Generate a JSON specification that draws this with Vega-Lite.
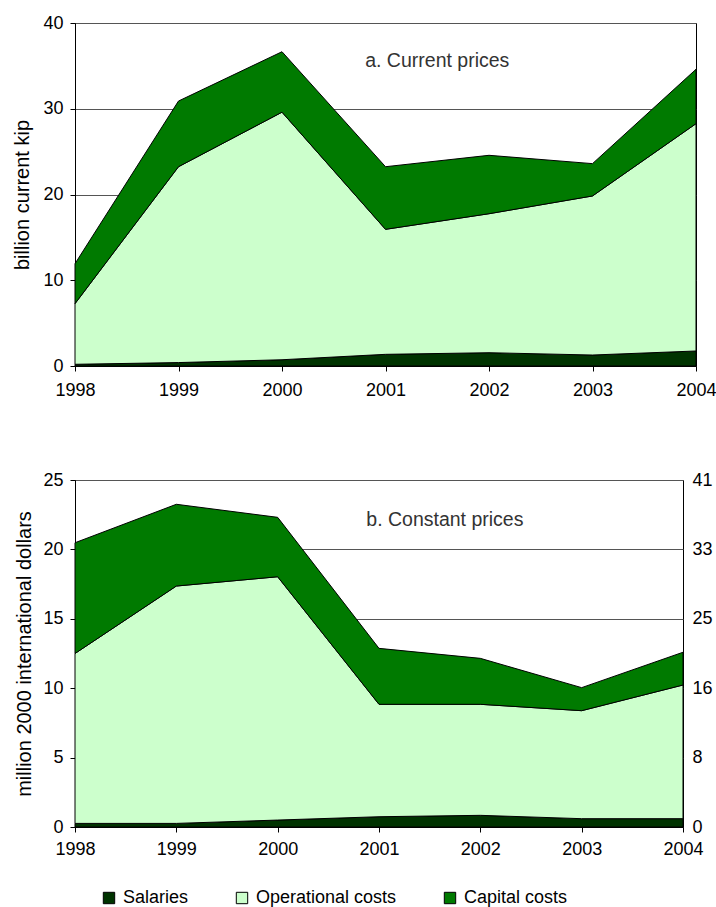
{
  "$schema": "https://vega.github.io/schema/vega-lite/v6.json",
  "padding": {"top": 13, "left": 12, "right": 4, "bottom": 4},
  "background": "white",
  "config": {
    "font": "Liberation Sans",
    "view": {"stroke": "black", "strokeWidth": 1},
    "axis": {
      "labelFont": "Liberation Sans",
      "labelFontSize": 18,
      "labelColor": "black",
      "titleFont": "Liberation Sans",
      "titleFontSize": 20,
      "titleFontWeight": "normal",
      "titleColor": "black",
      "domainColor": "black",
      "tickColor": "black",
      "tickSize": 5,
      "gridColor": "#555555",
      "gridWidth": 1
    },
    "legend": {
      "labelFont": "Liberation Sans",
      "labelFontSize": 18,
      "labelColor": "black"
    }
  },
  "datasets": {
    "current": [
      {"year": 1998, "component": "Salaries", "value": 0.2},
      {"year": 1999, "component": "Salaries", "value": 0.4},
      {"year": 2000, "component": "Salaries", "value": 0.73},
      {"year": 2001, "component": "Salaries", "value": 1.36},
      {"year": 2002, "component": "Salaries", "value": 1.55},
      {"year": 2003, "component": "Salaries", "value": 1.28},
      {"year": 2004, "component": "Salaries", "value": 1.75},
      {"year": 1998, "component": "Operational costs", "value": 7.07},
      {"year": 1999, "component": "Operational costs", "value": 22.84},
      {"year": 2000, "component": "Operational costs", "value": 28.87},
      {"year": 2001, "component": "Operational costs", "value": 14.58},
      {"year": 2002, "component": "Operational costs", "value": 16.21},
      {"year": 2003, "component": "Operational costs", "value": 18.55},
      {"year": 2004, "component": "Operational costs", "value": 26.51},
      {"year": 1998, "component": "Capital costs", "value": 4.66},
      {"year": 1999, "component": "Capital costs", "value": 7.66},
      {"year": 2000, "component": "Capital costs", "value": 7.05},
      {"year": 2001, "component": "Capital costs", "value": 7.3},
      {"year": 2002, "component": "Capital costs", "value": 6.81},
      {"year": 2003, "component": "Capital costs", "value": 3.77},
      {"year": 2004, "component": "Capital costs", "value": 6.34}
    ],
    "constant": [
      {"year": 1998, "component": "Salaries", "value": 0.26},
      {"year": 1999, "component": "Salaries", "value": 0.26},
      {"year": 2000, "component": "Salaries", "value": 0.5},
      {"year": 2001, "component": "Salaries", "value": 0.74},
      {"year": 2002, "component": "Salaries", "value": 0.84},
      {"year": 2003, "component": "Salaries", "value": 0.6},
      {"year": 2004, "component": "Salaries", "value": 0.6},
      {"year": 1998, "component": "Operational costs", "value": 12.24},
      {"year": 1999, "component": "Operational costs", "value": 17.1},
      {"year": 2000, "component": "Operational costs", "value": 17.53},
      {"year": 2001, "component": "Operational costs", "value": 8.1},
      {"year": 2002, "component": "Operational costs", "value": 8.0},
      {"year": 2003, "component": "Operational costs", "value": 7.78},
      {"year": 2004, "component": "Operational costs", "value": 9.63},
      {"year": 1998, "component": "Capital costs", "value": 7.98},
      {"year": 1999, "component": "Capital costs", "value": 5.89},
      {"year": 2000, "component": "Capital costs", "value": 4.28},
      {"year": 2001, "component": "Capital costs", "value": 4.03},
      {"year": 2002, "component": "Capital costs", "value": 3.31},
      {"year": 2003, "component": "Capital costs", "value": 1.66},
      {"year": 2004, "component": "Capital costs", "value": 2.36}
    ],
    "labels": [
      {"panel": "a", "year": 2001.5, "y": 35.6, "text": "a. Current prices"},
      {"panel": "b", "year": 2001.65, "y": 22.1, "text": "b. Constant prices"}
    ]
  },
  "spacing": 70,
  "vconcat": [
    {
      "width": 621,
      "height": 343,
      "layer": [
        {
          "data": {"name": "current"},
          "mark": {"type": "area", "opacity": 1, "stroke": "black", "strokeWidth": 1, "strokeJoin": "miter"},
          "encoding": {
            "x": {
              "field": "year", "type": "quantitative",
              "scale": {"domain": [1998, 2004], "nice": false, "zero": false},
              "axis": {"title": null, "format": "d", "values": [1998, 1999, 2000, 2001, 2002, 2003, 2004], "grid": false, "labelPadding": 10, "labelFlush": false}
            },
            "y": {
              "field": "value", "type": "quantitative", "stack": "zero",
              "scale": {"domain": [0, 40], "nice": false},
              "axis": {"title": "billion current kip", "values": [0, 10, 20, 30, 40], "labelPadding": 7, "titlePadding": 10}
            },
            "color": {
              "field": "component", "type": "nominal",
              "sort": ["Salaries", "Operational costs", "Capital costs"],
              "scale": {"domain": ["Salaries", "Operational costs", "Capital costs"], "range": ["#003300", "#CCFFCC", "#007A00"]},
              "legend": {
                "title": null, "orient": "none", "direction": "horizontal",
                "legendX": 25, "legendY": 866,
                "symbolType": "square", "symbolSize": 130,
                "symbolStrokeColor": "black", "symbolStrokeWidth": 1,
                "symbolOpacity": 1, "columnPadding": 44, "labelOffset": 5
              }
            },
            "order": {"field": "component", "sort": "descending"}
          }
        },
        {
          "data": {"name": "labels"},
          "transform": [{"filter": "datum.panel === 'a'"}],
          "mark": {"type": "text", "font": "Liberation Sans", "fontSize": 19.5, "color": "#333333", "align": "center", "baseline": "middle"},
          "encoding": {
            "x": {"field": "year", "type": "quantitative"},
            "y": {"field": "y", "type": "quantitative"},
            "text": {"field": "text"}
          }
        }
      ]
    },
    {
      "width": 608,
      "height": 347,
      "layer": [
        {
          "data": {"name": "constant"},
          "mark": {"type": "area", "opacity": 1, "stroke": "black", "strokeWidth": 1, "strokeJoin": "miter"},
          "encoding": {
            "x": {
              "field": "year", "type": "quantitative",
              "scale": {"domain": [1998, 2004], "nice": false, "zero": false},
              "axis": {"title": null, "format": "d", "values": [1998, 1999, 2000, 2001, 2002, 2003, 2004], "grid": false, "labelPadding": 8, "labelFlush": false}
            },
            "y": {
              "field": "value", "type": "quantitative", "stack": "zero",
              "scale": {"domain": [0, 25], "nice": false},
              "axis": {"title": "million 2000 international dollars", "values": [0, 5, 10, 15, 20, 25], "labelPadding": 7, "titlePadding": 8}
            },
            "color": {
              "field": "component", "type": "nominal",
              "sort": ["Salaries", "Operational costs", "Capital costs"],
              "scale": {"domain": ["Salaries", "Operational costs", "Capital costs"], "range": ["#003300", "#CCFFCC", "#007A00"]}
            },
            "order": {"field": "component", "sort": "descending"}
          }
        },
        {
          "data": {"name": "constant"},
          "mark": {"type": "area", "opacity": 0},
          "encoding": {
            "x": {"field": "year", "type": "quantitative"},
            "y": {
              "field": "value", "type": "quantitative", "stack": "zero",
              "axis": {"orient": "right", "title": null, "grid": false, "ticks": false, "domain": false, "values": [0, 5, 10, 15, 20, 25], "labelExpr": "format(datum.value * 1.64, '.0f')", "labelPadding": 9}
            },
            "detail": {"field": "component"}
          }
        },
        {
          "data": {"name": "labels"},
          "transform": [{"filter": "datum.panel === 'b'"}],
          "mark": {"type": "text", "font": "Liberation Sans", "fontSize": 19.5, "color": "#333333", "align": "center", "baseline": "middle"},
          "encoding": {
            "x": {"field": "year", "type": "quantitative"},
            "y": {"field": "y", "type": "quantitative", "axis": null},
            "text": {"field": "text"}
          }
        }
      ],
      "resolve": {"axis": {"y": "independent"}}
    }
  ]
}
